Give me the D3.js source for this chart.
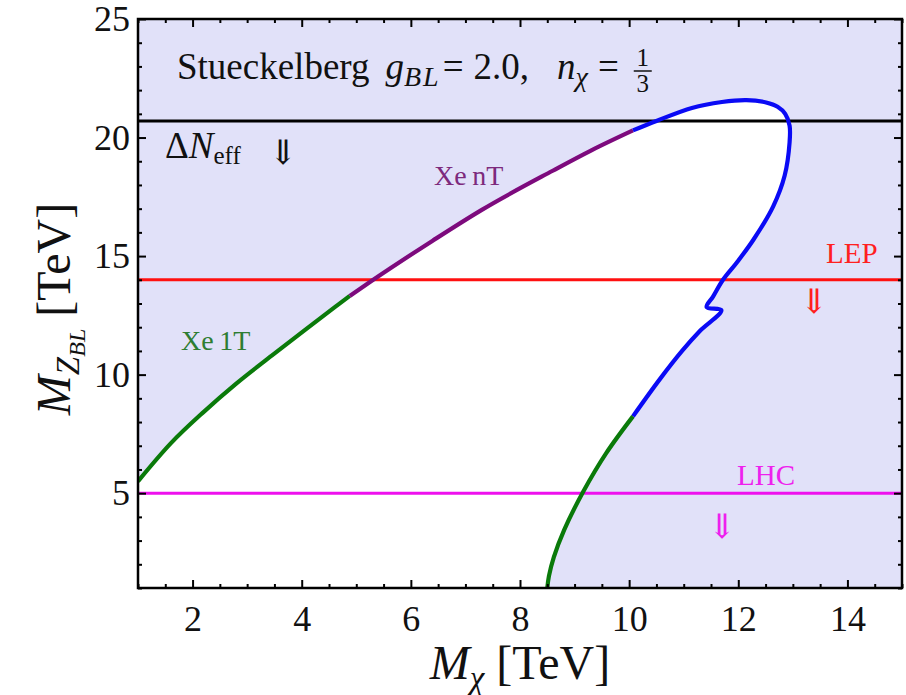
<!DOCTYPE html>
<html>
<head>
<meta charset="utf-8">
<script src="https://d3js.org/d3.v7.min.js"></script>
<style>
  body { margin: 0; background: #fff; }
  svg text { font-family: "Liberation Serif", "DejaVu Serif", serif; }
</style>
</head>
<body>
<div id="chart"></div>
<script>

// ---- data (x = M_chi in TeV, y = M_ZBL in TeV) ----
var xe1tLeft = [[1.0,5.5],[1.6,7.1],[2.2,8.42],[2.8,9.62],[3.45,10.8],[4.05,11.87],[4.65,12.92],[4.88,13.32]];
var xentPart = [[4.88,13.32],[5.31,14.0],[6.4,15.65],[7.3,16.95],[8.6,18.6],[9.3,19.45],[10.07,20.3]];
var bluePart = [[10.07,20.3],[10.5,20.7],[11.15,21.25],[11.7,21.5],[12.15,21.58],[12.51,21.48],[12.72,21.3],
                [12.86,21.0],[12.94,20.5],[12.94,19.8],[12.85,18.4],[12.64,17.1],[12.28,15.7],[11.97,14.72],
                [11.72,14.0],[11.54,13.3],[11.42,12.85],[11.69,12.72],[11.3,11.85],[10.97,11.0],[10.56,9.8],[10.07,8.24]];
var xe1tRight = [[10.07,8.24],[9.58,6.69],[9.16,5.07],[8.81,3.45],[8.62,2.3],[8.53,1.5],[8.5,1.0]];

// horizontal limits
var limNames  = ["dNeff", "LEP", "LHC"];
var limValues = [20.7, 14.0, 5.0];
var limColors = ["#000000", "#ff1010", "#ee10ee"];

var xTicks = [2, 4, 6, 8, 10, 12, 14];
var yTicks = [5, 10, 15, 20, 25];

// ---- layout ----
var W = 906, H = 695;
var margin = {top: 19, right: 4, bottom: 107, left: 138};
var width = W - margin.left - margin.right,
    height = H - margin.top - margin.bottom;

var svg = d3.select("#chart").append("svg")
    .attr("width", W).attr("height", H);

var g = svg.append("g")
    .attr("transform", "translate(" + margin.left + "," + margin.top + ")");

var x = d3.scaleLinear().domain([1, 15]).range([0, width]);
var y = d3.scaleLinear().domain([1, 25]).range([height, 0]);

g.append("clipPath").attr("id", "clip")
  .append("rect").attr("width", width).attr("height", height);

var plot = g.append("g").attr("clip-path", "url(#clip)");

// excluded region (lavender) everywhere, allowed region white
plot.append("rect").attr("width", width).attr("height", height).attr("fill", "#e1e1f9");

function mkLine(curve) {
  return d3.line()
    .x(function(d) { return x(d[0]); })
    .y(function(d) { return y(d[1]); })
    .curve(curve);
}
var smooth = mkLine(d3.curveMonotoneX);
var wiggly = mkLine(d3.curveCatmullRom.alpha(0.5));

// white inside: outline built from the same curves
var outline = smooth(xe1tLeft)
  + smooth(xentPart).replace(/^M/, "L")
  + wiggly(bluePart).replace(/^M/, "L")
  + wiggly(xe1tRight).replace(/^M/, "L")
  + "L" + x(1) + "," + y(1) + "Z";
plot.append("path").attr("d", outline).attr("fill", "#ffffff");

// limit lines
limValues.forEach(function(v, i) {
  plot.append("line")
    .attr("x1", 0).attr("x2", width)
    .attr("y1", y(v)).attr("y2", y(v))
    .attr("stroke", limColors[i]).attr("stroke-width", 3);
});

// curve segments
[[xe1tLeft, "#0a7a0a", smooth], [xentPart, "#7d0a7d", smooth],
 [bluePart, "#0a0af5", wiggly], [xe1tRight, "#0a7a0a", wiggly]].forEach(function(s) {
  plot.append("path")
    .datum(s[0])
    .attr("d", s[2])
    .attr("fill", "none")
    .attr("stroke", s[1])
    .attr("stroke-width", 4.2);
});

// ---- axes: inward ticks on all sides ----
var xMinor = d3.range(1, 15.01, 0.5).filter(function(v){ return xTicks.indexOf(v) < 0; });
var yMinor = d3.range(1, 25.01, 1).filter(function(v){ return yTicks.indexOf(v) < 0; });

function tickStyle(sel) {
  sel.select(".domain").remove();
  sel.selectAll("line").attr("stroke", "#000").attr("stroke-width", 2);
}

g.append("g").attr("transform", "translate(0," + height + ")")
  .call(d3.axisBottom(x).tickValues(xTicks).tickSize(-8).tickPadding(17).tickFormat(d3.format("d")))
  .call(tickStyle)
  .selectAll("text").attr("font-size", 36).attr("fill", "#111").attr("font-family", "Liberation Serif");
g.append("g").attr("transform", "translate(0," + height + ")")
  .call(d3.axisBottom(x).tickValues(xMinor).tickSize(-4).tickFormat(""))
  .call(tickStyle);
g.append("g")
  .call(d3.axisTop(x).tickValues(xTicks).tickSize(-8).tickFormat(""))
  .call(tickStyle);
g.append("g")
  .call(d3.axisTop(x).tickValues(xMinor).tickSize(-4).tickFormat(""))
  .call(tickStyle);

g.append("g")
  .call(d3.axisLeft(y).tickValues(yTicks).tickSize(-8).tickPadding(8).tickFormat(d3.format("d")))
  .call(tickStyle)
  .selectAll("text").attr("font-size", 36).attr("fill", "#111").attr("font-family", "Liberation Serif");
g.append("g")
  .call(d3.axisLeft(y).tickValues(yMinor).tickSize(-4).tickFormat(""))
  .call(tickStyle);
g.append("g").attr("transform", "translate(" + width + ",0)")
  .call(d3.axisRight(y).tickValues(yTicks).tickSize(-8).tickFormat(""))
  .call(tickStyle);
g.append("g").attr("transform", "translate(" + width + ",0)")
  .call(d3.axisRight(y).tickValues(yMinor).tickSize(-4).tickFormat(""))
  .call(tickStyle);

// frame
g.append("rect").attr("width", width).attr("height", height)
  .attr("fill", "none").attr("stroke", "#000").attr("stroke-width", 2.5);

// ---- axis titles ----
var xt = svg.append("text")
  .attr("x", 520).attr("y", 679).attr("text-anchor", "middle")
  .attr("font-size", 48).attr("fill", "#111");
xt.append("tspan").attr("font-style", "italic").text("M");
xt.append("tspan").attr("font-style", "italic").attr("font-size", 33).attr("dy", 10).text("\u03c7");
xt.append("tspan").attr("dy", -10).attr("dx", 12).text("[TeV]");

var yt = svg.append("text")
  .attr("transform", "translate(70,309) rotate(-90)")
  .attr("text-anchor", "middle")
  .attr("font-size", 48).attr("fill", "#111");
yt.append("tspan").attr("font-style", "italic").text("M");
yt.append("tspan").attr("font-style", "italic").attr("font-size", 33).attr("dy", 9).text("Z");
yt.append("tspan").attr("font-style", "italic").attr("font-size", 24).attr("dy", 6).text("BL");
yt.append("tspan").attr("dy", -15).attr("dx", 12).text("[TeV]");

// ---- annotations ----
var title = svg.append("text")
  .attr("x", 177).attr("y", 79).attr("font-size", 37).attr("fill", "#111");
title.append("tspan").text("Stueckelberg");
title.append("tspan").attr("dx", 16).attr("font-style", "italic").text("g");
title.append("tspan").attr("font-style", "italic").attr("font-size", 28).attr("dy", 7)
  .attr("letter-spacing", 2).text("BL");
title.append("tspan").attr("dy", -7).attr("dx", 2).text("=");
title.append("tspan").attr("dx", 10).text("2.0,");
title.append("tspan").attr("dx", 28).attr("font-style", "italic").text("n");
title.append("tspan").attr("font-style", "italic").attr("font-size", 28).attr("dy", 7).text("\u03c7");
title.append("tspan").attr("dy", -7).attr("dx", 10).text("=");
var tb = title.node().getBBox();
var fx = tb.x + tb.width + 24;
svg.append("text").attr("x", fx).attr("y", 66).attr("text-anchor", "middle")
  .attr("font-size", 25).attr("fill", "#111").text("1");
svg.append("line").attr("x1", fx - 9).attr("x2", fx + 9).attr("y1", 71).attr("y2", 71)
  .attr("stroke", "#111").attr("stroke-width", 1.5);
svg.append("text").attr("x", fx).attr("y", 92).attr("text-anchor", "middle")
  .attr("font-size", 25).attr("fill", "#111").text("3");

var dn = svg.append("text")
  .attr("x", 165).attr("y", 158).attr("font-size", 37).attr("fill", "#111");
dn.append("tspan").text("\u0394");
dn.append("tspan").attr("font-style", "italic").text("N");
dn.append("tspan").attr("font-size", 25).attr("dy", 6).text("eff");

// double down arrows
function arrow(cx, base, color) {
  svg.append("text")
    .attr("x", cx).attr("y", base)
    .attr("text-anchor", "middle")
    .attr("font-family", "'DejaVu Sans', sans-serif")
    .attr("font-weight", 300).attr("font-size", 34)
    .attr("fill", color).text("\u21d3");
}
arrow(283, 164, "#111");
arrow(814, 313, "#ff2020");
arrow(722, 538, "#ee20ee");

svg.append("text").attr("x", 434).attr("y", 185).attr("font-size", 28)
  .attr("fill", "#7d2a7d").text("Xe\u2009nT");
svg.append("text").attr("x", 181).attr("y", 350).attr("font-size", 28)
  .attr("fill", "#2e7d32").text("Xe\u20091T");
svg.append("text").attr("x", 826).attr("y", 263).attr("font-size", 29)
  .attr("fill", "#ff2020").text("LEP");
svg.append("text").attr("x", 737).attr("y", 485).attr("font-size", 29)
  .attr("fill", "#ee20ee").text("LHC");

</script>
</body>
</html>
